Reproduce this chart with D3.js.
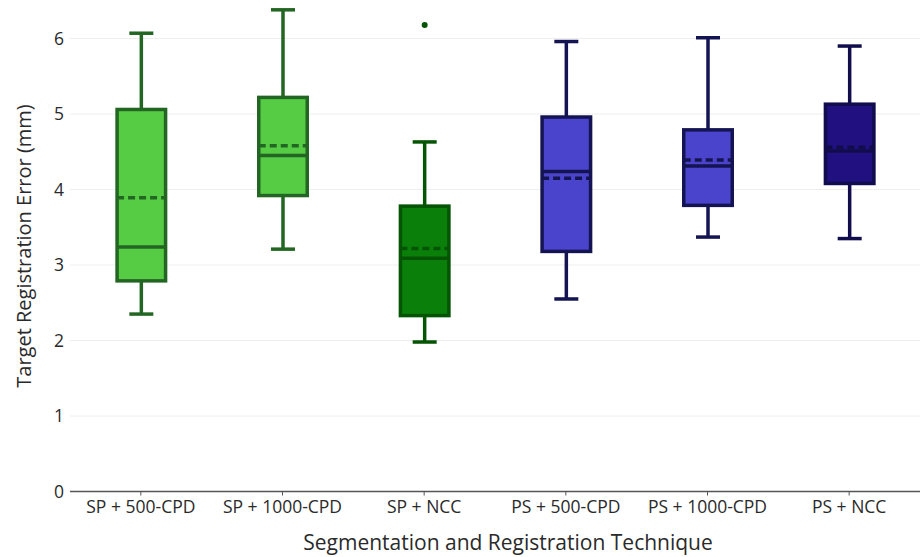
<!DOCTYPE html>
<html><head><meta charset="utf-8">
<script src="https://cdn.jsdelivr.net/npm/d3@7"></script>
<style>body{margin:0;background:#fff}svg{display:block}text{font-family:"Open Sans",sans-serif;fill:#2a2a2a}</style>
</head><body><svg id="c" width="920" height="557"></svg>
<script>
const categories = ["SP + 500-CPD","SP + 1000-CPD","SP + NCC","PS + 500-CPD","PS + 1000-CPD","PS + NCC"];
const lowerWhisker = [2.35, 3.21, 1.98, 2.55, 3.37, 3.35];
const q1 = [2.79, 3.92, 2.33, 3.18, 3.79, 4.08];
const median = [3.24, 4.45, 3.09, 4.24, 4.31, 4.51];
const mean = [3.89, 4.58, 3.22, 4.15, 4.39, 4.56];
const q3 = [5.06, 5.22, 3.78, 4.96, 4.79, 5.13];
const upperWhisker = [6.07, 6.38, 4.63, 5.96, 6.01, 5.90];
const outliers = [[], [], [6.18], [], [], []];
const fillColors = ["#55cc44","#55cc44","#0a800a","#4a44cc","#4a44cc","#201080"];
const lineColors = ["#236623","#236623","#045404","#141452","#141452","#110d4d"];
const yTicks = [0,1,2,3,4,5,6];

const svg = d3.select("#c");
const m = {l:70, r:920, t:0, b:491.5};
const x = d3.scaleBand().domain(categories).range([m.l, m.r]);
const y = d3.scaleLinear().domain([0, 6.51]).range([m.b, m.t]);

svg.append("g").selectAll("line").data(yTicks.filter(d=>d>0)).join("line")
  .attr("x1", m.l).attr("x2", m.r).attr("y1", d=>y(d)).attr("y2", d=>y(d))
  .attr("stroke", "#eeeeee").attr("stroke-width", 1);

const ya = svg.append("g").attr("transform", `translate(${m.l},0)`)
  .call(d3.axisLeft(y).tickValues(yTicks).tickFormat(d3.format("d")).tickSize(0).tickPadding(6));
ya.select(".domain").remove();
ya.selectAll("text").style("font-family","Open Sans").style("font-size","17.5px").attr("fill","#2a2a2a");

const xa = svg.append("g").attr("transform", `translate(0,${m.b})`)
  .call(d3.axisBottom(x).tickSize(4).tickPadding(5));
xa.select(".domain").attr("stroke","#555").attr("stroke-width",1.5).attr("d",`M${m.l},0H${m.r}`);
xa.selectAll(".tick line").attr("stroke","#555");
xa.selectAll("text").style("font-family","Open Sans").style("font-size","17.5px").attr("fill","#2a2a2a");

const bw = 52, cw = 24, sw = 3.5;
const g = svg.append("g");
categories.forEach((c,i)=>{
  const cx = x(c) + x.bandwidth()/2 + 0.5;
  const col = lineColors[i];
  const gg = g.append("g");
  gg.append("line").attr("x1",cx).attr("x2",cx).attr("y1",y(upperWhisker[i])).attr("y2",y(q3[i])).attr("stroke",col).attr("stroke-width",sw);
  gg.append("line").attr("x1",cx).attr("x2",cx).attr("y1",y(q1[i])).attr("y2",y(lowerWhisker[i])).attr("stroke",col).attr("stroke-width",sw);
  gg.append("line").attr("x1",cx-cw/2).attr("x2",cx+cw/2).attr("y1",y(upperWhisker[i])).attr("y2",y(upperWhisker[i])).attr("stroke",col).attr("stroke-width",sw);
  gg.append("line").attr("x1",cx-cw/2).attr("x2",cx+cw/2).attr("y1",y(lowerWhisker[i])).attr("y2",y(lowerWhisker[i])).attr("stroke",col).attr("stroke-width",sw);
  gg.append("rect").attr("x",cx-bw/2+1.75).attr("width",bw-3.5).attr("y",y(q3[i])).attr("height",y(q1[i])-y(q3[i]))
    .attr("fill",fillColors[i]).attr("stroke",col).attr("stroke-width",sw);
  gg.append("line").attr("x1",cx-bw/2+1.75).attr("x2",cx+bw/2-1.75).attr("y1",y(median[i])).attr("y2",y(median[i])).attr("stroke",col).attr("stroke-width",sw);
  gg.append("line").attr("x1",cx-bw/2+1.75).attr("x2",cx+bw/2-1.75).attr("y1",y(mean[i])).attr("y2",y(mean[i])).attr("stroke",col).attr("stroke-width",sw).attr("stroke-dasharray","7,4");
  gg.selectAll("circle").data(outliers[i]).join("circle").attr("cx",cx).attr("cy",d=>y(d)).attr("r",3).attr("fill",col);
});

svg.append("text").attr("x", 508).attr("y", 550).attr("text-anchor","middle")
  .style("font-size","21px").text("Segmentation and Registration Technique");
svg.append("text").attr("transform","translate(31,246) rotate(-90)").attr("text-anchor","middle")
  .style("font-size","20px").text("Target Registration Error (mm)");
</script></body></html>
